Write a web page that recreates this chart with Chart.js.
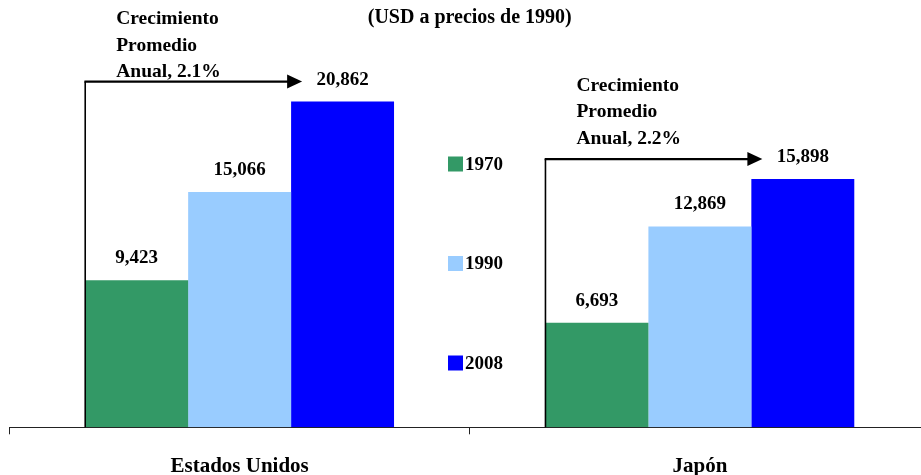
<!DOCTYPE html>
<html lang="es">
<head>
<meta charset="utf-8">
<title>PIB per cápita</title>
<script src="https://cdn.jsdelivr.net/npm/chart.js@4.4.1/dist/chart.umd.min.js"></script>
<style>
  html, body { margin: 0; padding: 0; background: #fff; overflow: hidden; }
  #wrap { position: relative; width: 942px; height: 475px; }
</style>
</head>
<body>
<div id="wrap"><canvas id="chart" width="942" height="475"></canvas></div>
<script>
// Countries on the category axis
const categories = ['Estados Unidos', 'Japón'];

// GDP per capita, USD at 1990 prices
const years = ['1970', '1990', '2008'];
const values1970 = [9423, 6693];
const values1990 = [15066, 12869];
const values2008 = [20862, 15898];

// Average annual growth notes drawn over each country group
const growthNotes = [
  ['Crecimiento', 'Promedio', 'Anual, 2.1%'],
  ['Crecimiento', 'Promedio', 'Anual, 2.2%']
];

const colors = ['#339966', '#99CCFF', '#0000FF'];
const serif = '"Liberation Serif", "Times New Roman", serif';

const fmt = v => v.toLocaleString('en-US');

// Value labels above each bar
const valueLabels = {
  id: 'valueLabels',
  afterDatasetsDraw(chart) {
    const ctx = chart.ctx;
    ctx.save();
    ctx.font = 'bold 19px ' + serif;
    ctx.fillStyle = '#000';
    ctx.textAlign = 'center';
    ctx.textBaseline = 'middle';
    chart.data.datasets.forEach((ds, di) => {
      chart.getDatasetMeta(di).data.forEach((bar, i) => {
        ctx.fillText(fmt(ds.data[i]), bar.x, bar.y - 22);
      });
    });
    ctx.restore();
  }
};

// Elbow arrows from the first bar to the last one, with the growth note
const growthArrows = {
  id: 'growthArrows',
  afterDatasetsDraw(chart, args, opts) {
    const ctx = chart.ctx;
    const first = chart.getDatasetMeta(0).data;
    const last = chart.getDatasetMeta(chart.data.datasets.length - 1).data;
    const base = chart.scales.y.getPixelForValue(0);
    ctx.save();
    ctx.strokeStyle = '#000';
    ctx.fillStyle = '#000';
    first.forEach((bar, i) => {
      const left = bar.x - bar.width / 2;
      const endBar = last[i];
      const endLeft = endBar.x - endBar.width / 2;
      const y = endBar.y - opts.rise;
      const tip = endLeft + opts.tipOffset;
      ctx.lineWidth = 1.6;
      ctx.beginPath();
      ctx.moveTo(left, base);
      ctx.lineTo(left, y);
      ctx.stroke();
      ctx.lineWidth = 2.2;
      ctx.beginPath();
      ctx.moveTo(left - 0.8, y);
      ctx.lineTo(tip - opts.headLength + 1, y);
      ctx.stroke();
      ctx.beginPath();
      ctx.moveTo(tip, y);
      ctx.lineTo(tip - opts.headLength, y - opts.headHalf);
      ctx.lineTo(tip - opts.headLength, y + opts.headHalf);
      ctx.closePath();
      ctx.fill();

      ctx.font = 'bold 19.5px ' + serif;
      ctx.textAlign = 'left';
      ctx.textBaseline = 'alphabetic';
      const lines = growthNotes[i];
      const lastBase = y - opts.textGap[i];
      lines.forEach((t, k) => {
        ctx.fillText(t, left + opts.textIndent, lastBase - (lines.length - 1 - k) * opts.lineSpacing);
      });
    });
    ctx.restore();
  }
};

// Vertical legend placed between the two country groups
const middleLegend = {
  id: 'middleLegend',
  afterDraw(chart, args, opts) {
    const ctx = chart.ctx;
    ctx.save();
    ctx.font = 'bold 19px ' + serif;
    ctx.textAlign = 'left';
    ctx.textBaseline = 'middle';
    chart.data.datasets.forEach((ds, i) => {
      const cy = opts.y + i * opts.spacing;
      ctx.fillStyle = ds.backgroundColor;
      ctx.fillRect(opts.x, cy - 7.5, 15, 15);
      ctx.fillStyle = '#000';
      ctx.fillText(ds.label, opts.x + 17, cy + 1);
    });
    ctx.restore();
  }
};

new Chart(document.getElementById('chart'), {
  type: 'bar',
  data: {
    labels: categories,
    datasets: [
      { label: years[0], data: values1970, backgroundColor: colors[0] },
      { label: years[1], data: values1990, backgroundColor: colors[1] },
      { label: years[2], data: values2008, backgroundColor: colors[2] }
    ]
  },
  options: {
    responsive: false,
    animation: false,
    devicePixelRatio: 1,
    layout: { padding: { left: 9.5, right: 12, top: 0, bottom: 0 } },
    datasets: { bar: { categoryPercentage: 0.671, barPercentage: 1.0, borderWidth: 0 } },
    scales: {
      x: {
        afterFit(scale) { scale.height = 47.7; },
        grid: {
          offset: true,
          drawOnChartArea: false,
          drawTicks: true,
          tickLength: 7,
          color: '#222',
          lineWidth: 1
        },
        border: { display: true, color: '#222', width: 1 },
        ticks: {
          color: '#000',
          padding: 22,
          font: { family: serif, size: 21, weight: 'bold', lineHeight: 1 }
        }
      },
      y: {
        display: false,
        min: 0,
        max: 25450
      }
    },
    plugins: {
      legend: { display: false },
      tooltip: { enabled: false },
      title: {
        display: true,
        text: '(USD a precios de 1990)',
        color: '#000',
        font: { family: serif, size: 20, weight: 'bold', lineHeight: 1.2 },
        padding: { top: 6, bottom: 0 }
      },
      growthArrows: {
        rise: 20,
        tipOffset: 11,
        headLength: 15,
        headHalf: 7,
        textIndent: 31,
        lineSpacing: 26.5,
        textGap: [4.5, 15.5]
      },
      middleLegend: { x: 448, y: 164, spacing: 99.5 }
    }
  },
  plugins: [valueLabels, growthArrows, middleLegend]
});
</script>
</body>
</html>
